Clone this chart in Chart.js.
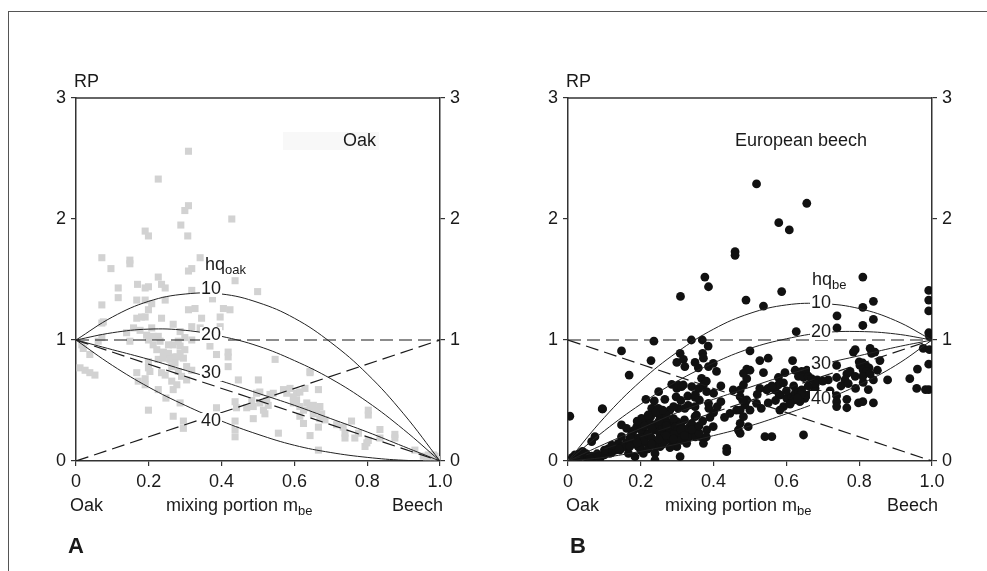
<!DOCTYPE html>
<html>
<head>
<meta charset="utf-8">
<script src="https://cdn.jsdelivr.net/npm/chart.js@4.4.1/dist/chart.umd.min.js"></script>
<style>
  body { margin: 0; background: #fff; }
  #wrap { position: relative; width: 987px; height: 571px; overflow: hidden; }
  #frame { position: absolute; left: 8px; top: 11px; width: 990px; height: 600px;
           border-left: 1.5px solid #555; border-top: 1.5px solid #555; }
  canvas { position: absolute; top: 0; }
</style>
</head>
<body>
<div id="wrap">
  <div id="frame"></div>
  <canvas id="chartA" width="490" height="571" style="left:0"></canvas>
  <canvas id="chartB" width="497" height="571" style="left:490px"></canvas>
</div>
<script>
// mixing portion of beech (x) used for the model curves
var mixSteps = [0, 0.1, 0.2, 0.3, 0.4, 0.5, 0.6, 0.7, 0.8, 0.9, 1.0];

// relative productivity curves (hq = 10, 20, 30, 40)
var oakCurve10 = [1, 1.19, 1.32, 1.38, 1.38, 1.31, 1.18, 0.98, 0.72, 0.39, 0];
var oakCurve20 = [1, 1.06, 1.09, 1.08, 1.03, 0.95, 0.83, 0.68, 0.49, 0.26, 0];
var oakCurve30 = [1, 0.92, 0.84, 0.75, 0.66, 0.56, 0.46, 0.35, 0.24, 0.12, 0];
var oakCurve40 = [1, 0.79, 0.61, 0.46, 0.33, 0.22, 0.13, 0.07, 0.03, 0.006, 0];

var beechCurve10 = [0, 0.36, 0.66, 0.90, 1.09, 1.22, 1.29, 1.30, 1.26, 1.16, 1];
var beechCurve20 = [0, 0.25, 0.47, 0.66, 0.81, 0.93, 1.01, 1.06, 1.07, 1.05, 1];
var beechCurve30 = [0, 0.14, 0.27, 0.40, 0.51, 0.61, 0.71, 0.80, 0.87, 0.94, 1];
var beechCurve40 = [0, 0.03, 0.08, 0.14, 0.21, 0.29, 0.39, 0.50, 0.63, 0.79, 1];

// reference lines (dashed)
var refEnds = [0, 1];
var refFlat = [1, 1];
var refUp = [0, 1];
var refDown = [1, 0];

var xTickLabels = ['0', '0.2', '0.4', '0.6', '0.8', '1.0'];
var yTickLabels = ['0', '1', '2', '3'];

// observed plots: [mixing portion, RP]
var oakPoints = [
  [0.309,2.56],[0.226,2.33],[0.309,2.11],[0.299,2.07],[0.428,2.00],[0.288,1.95],[0.307,1.86],[0.190,1.90],
  [0.199,1.86],[0.071,1.68],[0.148,1.66],[0.148,1.63],[0.096,1.59],[0.341,1.68],[0.318,1.59],[0.309,1.57],
  [0.437,1.49],[0.226,1.52],[0.235,1.46],[0.245,1.43],[0.116,1.43],[0.116,1.35],[0.169,1.46],[0.190,1.43],
  [0.199,1.44],[0.318,1.41],[0.499,1.40],[0.167,1.33],[0.190,1.33],[0.208,1.30],[0.245,1.33],[0.071,1.29],
  [0.199,1.25],[0.309,1.25],[0.327,1.26],[0.405,1.26],[0.423,1.25],[0.375,1.34],[0.071,1.14],[0.075,1.15],
  [0.167,1.18],[0.180,1.19],[0.190,1.19],[0.235,1.18],[0.345,1.18],[0.396,1.19],[0.267,1.13],[0.139,1.06],
  [0.158,1.10],[0.176,1.08],[0.208,1.10],[0.318,1.11],[0.341,1.10],[0.286,1.07],[0.396,1.11],[0.391,1.03],
  [0.071,1.02],[0.061,0.99],[0.016,0.96],[0.020,0.93],[0.038,0.88],[0.148,0.99],[0.194,1.04],[0.199,1.00],
  [0.212,1.03],[0.226,1.03],[0.212,0.96],[0.231,0.99],[0.254,0.96],[0.267,0.96],[0.281,0.99],[0.299,1.02],
  [0.318,1.00],[0.222,0.92],[0.240,0.90],[0.254,0.89],[0.267,0.86],[0.286,0.95],[0.299,0.92],[0.245,0.88],
  [0.258,0.84],[0.277,0.86],[0.286,0.89],[0.226,0.84],[0.240,0.85],[0.368,0.95],[0.386,0.88],[0.418,0.90],
  [0.418,0.86],[0.199,0.82],[0.199,0.77],[0.203,0.74],[0.263,0.78],[0.272,0.81],[0.281,0.74],[0.295,0.85],
  [0.304,0.78],[0.318,0.75],[0.418,0.78],[0.011,0.77],[0.025,0.75],[0.038,0.73],[0.052,0.71],[0.167,0.73],
  [0.171,0.66],[0.190,0.68],[0.190,0.63],[0.235,0.73],[0.245,0.71],[0.263,0.66],[0.277,0.63],[0.267,0.59],
  [0.290,0.70],[0.304,0.67],[0.350,0.71],[0.386,0.71],[0.446,0.67],[0.501,0.67],[0.547,0.84],[0.643,0.74],
  [0.643,0.73],[0.199,0.42],[0.226,0.59],[0.247,0.52],[0.286,0.48],[0.267,0.37],[0.295,0.33],[0.295,0.27],
  [0.386,0.44],[0.437,0.49],[0.441,0.44],[0.437,0.33],[0.437,0.26],[0.437,0.20],[0.469,0.44],[0.483,0.50],
  [0.487,0.45],[0.496,0.56],[0.505,0.48],[0.515,0.42],[0.524,0.50],[0.528,0.46],[0.487,0.35],[0.519,0.39],
  [0.505,0.57],[0.533,0.55],[0.542,0.56],[0.556,0.23],[0.570,0.59],[0.579,0.56],[0.588,0.60],[0.597,0.53],
  [0.606,0.50],[0.606,0.56],[0.615,0.57],[0.629,0.60],[0.597,0.48],[0.615,0.45],[0.625,0.42],[0.634,0.48],
  [0.643,0.44],[0.652,0.46],[0.661,0.42],[0.666,0.59],[0.670,0.45],[0.675,0.39],[0.652,0.39],[0.615,0.37],
  [0.625,0.31],[0.643,0.21],[0.666,0.28],[0.684,0.34],[0.670,0.35],[0.666,0.09],[0.716,0.30],[0.734,0.28],
  [0.739,0.23],[0.739,0.19],[0.757,0.33],[0.766,0.19],[0.776,0.23],[0.794,0.12],[0.803,0.17],[0.799,0.15],
  [0.803,0.42],[0.803,0.38],[0.835,0.26],[0.835,0.19],[0.876,0.22],[0.876,0.19],[0.931,0.09],[0.954,0.04],
  [0.968,0.05],[0.977,0.02],[0.986,0.04],[0.991,0.01],[0.982,0.05],[0.995,0.01],[0.963,0.02]
];

var beechPoints = [
  [0.518,2.29],[0.656,2.13],[0.579,1.97],[0.608,1.91],[0.459,1.73],[0.459,1.70],[0.376,1.52],[0.386,1.44],
  [0.810,1.52],[0.587,1.40],[0.309,1.36],[0.489,1.33],[0.537,1.28],[0.839,1.32],[0.810,1.27],[0.739,1.20],
  [0.739,1.10],[0.810,1.12],[0.839,1.17],[0.627,1.07],
  [0.991,1.41],[0.991,1.33],[0.991,1.24],[0.991,1.06],[0.993,1.03],[0.976,0.93],[0.993,0.92],[0.991,0.80],
  [0.991,0.59],[0.982,0.59],[0.958,0.60],[0.960,0.76],[0.939,0.68],[0.878,0.67],
  [0.005,0.37],[0.236,0.99],[0.339,1.00],[0.369,1.00],[0.147,0.91],[0.228,0.83],[0.168,0.71],[0.094,0.43],
  [0.385,0.95],[0.308,0.89],[0.299,0.815],[0.317,0.84],[0.349,0.815],[0.358,0.77],[0.370,0.89],[0.372,0.85],
  [0.386,0.78],[0.399,0.807],[0.408,0.74],[0.321,0.78],
  [0.214,0.51],[0.230,0.435],[0.237,0.496],[0.249,0.573],[0.266,0.51],[0.285,0.634],[0.297,0.53],[0.299,0.60],
  [0.303,0.628],[0.312,0.614],[0.317,0.628],[0.329,0.537],[0.340,0.614],[0.349,0.449],[0.349,0.526],[0.361,0.504],
  [0.367,0.683],[0.372,0.628],[0.381,0.573],[0.386,0.477],[0.387,0.435],[0.303,0.435],[0.321,0.435],[0.349,0.366],
  [0.353,0.38],[0.280,0.421],[0.248,0.435],[0.227,0.366],[0.216,0.339],
  [0.065,0.16],[0.074,0.201],[0.095,0.43],[0.147,0.298],[0.161,0.27],[0.175,0.229],[0.189,0.284],[0.202,0.353],
  [0.207,0.311],[0.216,0.229],[0.225,0.311],[0.234,0.256],[0.248,0.284],[0.253,0.366],[0.262,0.325],[0.271,0.256],
  [0.280,0.311],[0.289,0.27],[0.299,0.325],[0.303,0.201],[0.308,0.229],[0.317,0.256],[0.326,0.229],[0.335,0.284],
  [0.344,0.229],[0.353,0.256],[0.363,0.201],[0.372,0.146],[0.381,0.256],[0.399,0.284],[0.147,0.201],[0.189,0.187],
  [0.253,0.201],[0.271,0.174],[0.289,0.146],[0.326,0.146],[0.299,0.118],
  [0.019,0.05],[0.033,0.063],[0.024,0.022],[0.047,0.036],[0.065,0.041],[0.088,0.022],[0.097,0.05],[0.115,0.063],
  [0.125,0.118],[0.138,0.146],[0.143,0.091],[0.157,0.118],[0.166,0.063],[0.175,0.16],[0.184,0.036],[0.193,0.118],
  [0.202,0.146],[0.207,0.063],[0.221,0.132],[0.234,0.16],[0.239,0.063],[0.253,0.118],[0.239,0.008],[0.308,0.036],
  [0.436,0.105],[0.436,0.077],[0.445,0.394],[0.463,0.421],[0.468,0.256],[0.454,0.587],[0.473,0.311],
  [0.18,0.25],[0.20,0.20],[0.21,0.17],[0.22,0.22],[0.23,0.19],[0.24,0.30],[0.25,0.24],[0.26,0.28],
  [0.265,0.21],[0.27,0.33],[0.28,0.24],[0.285,0.19],[0.29,0.35],[0.295,0.28],[0.30,0.25],[0.31,0.30],
  [0.32,0.34],[0.33,0.27],[0.34,0.31],[0.27,0.38],[0.26,0.42],[0.24,0.40],[0.22,0.38],[0.20,0.26],
  [0.17,0.19],[0.16,0.15],[0.15,0.12],[0.13,0.09],[0.12,0.07],[0.11,0.10],[0.10,0.05],[0.07,0.03],
  [0.05,0.06],[0.03,0.03],[0.04,0.08],[0.012,0.03],[0.20,0.09],[0.22,0.10],[0.24,0.12],[0.26,0.14],
  [0.28,0.11],[0.31,0.17],[0.33,0.19],[0.35,0.20],[0.36,0.23],[0.38,0.20],
  [0.19,0.33],[0.21,0.29],[0.23,0.27],[0.25,0.33],[0.27,0.29],[0.29,0.22],[0.31,0.26],[0.32,0.21],
  [0.34,0.26],[0.36,0.29],[0.37,0.33],[0.39,0.36],[0.40,0.40],[0.41,0.45],[0.42,0.49],[0.43,0.36],
  [0.25,0.18],[0.27,0.21],[0.29,0.18],[0.23,0.14],[0.19,0.15],[0.17,0.12],[0.14,0.10],[0.12,0.13],
  [0.10,0.09],[0.08,0.06],[0.06,0.02],[0.02,0.01],[0.35,0.55],[0.33,0.46],[0.31,0.50],[0.29,0.45],
  [0.36,0.60],[0.38,0.66],[0.40,0.56],[0.42,0.62],
  [0.500,0.91],[0.527,0.83],[0.550,0.85],[0.491,0.76],[0.491,0.68],[0.537,0.73],[0.617,0.83],[0.596,0.73],
  [0.578,0.69],[0.624,0.75],[0.642,0.74],[0.656,0.75],[0.633,0.70],[0.647,0.69],[0.660,0.70],[0.669,0.68],
  [0.685,0.67],[0.715,0.67],[0.738,0.69],[0.738,0.79],[0.766,0.72],[0.775,0.74],[0.761,0.67],[0.789,0.70],
  [0.784,0.90],[0.789,0.92],[0.830,0.93],[0.834,0.89],[0.843,0.90],[0.800,0.82],[0.810,0.81],[0.818,0.79],
  [0.827,0.77],[0.802,0.79],[0.811,0.75],[0.820,0.74],[0.857,0.83],[0.839,0.67],[0.811,0.65],[0.825,0.59],
  [0.738,0.54],[0.738,0.49],[0.738,0.45],[0.766,0.51],[0.766,0.44],[0.798,0.48],[0.810,0.49],[0.839,0.48],
  [0.473,0.587],[0.473,0.532],[0.486,0.463],[0.491,0.504],[0.518,0.477],[0.531,0.435],[0.546,0.587],[0.527,0.60],
  [0.550,0.60],[0.569,0.587],[0.578,0.63],[0.592,0.645],[0.582,0.545],[0.601,0.518],[0.614,0.532],[0.624,0.559],
  [0.633,0.573],[0.642,0.587],[0.651,0.518],[0.656,0.545],[0.669,0.559],[0.679,0.60],[0.637,0.49],[0.619,0.504],
  [0.592,0.449],[0.582,0.421],[0.473,0.421],[0.482,0.366],[0.495,0.284],[0.473,0.229],[0.482,0.63],[0.482,0.725],
  [0.500,0.75],[0.541,0.201],[0.560,0.201],[0.647,0.215],
  [0.56,0.62],[0.58,0.55],[0.60,0.58],[0.62,0.62],[0.64,0.55],[0.66,0.62],[0.68,0.64],[0.70,0.66],
  [0.55,0.48],[0.57,0.50],[0.61,0.47],[0.63,0.52],[0.69,0.55],[0.72,0.58],[0.75,0.62],[0.77,0.64],
  [0.79,0.60],[0.81,0.70],[0.83,0.72],[0.85,0.75],[0.52,0.55],[0.50,0.42],[0.48,0.50]
];

var FONT = '"Liberation Sans", Arial, Helvetica, sans-serif';

function xy(xs, ys) {
    return xs.map(function(x, i) { return { x: x, y: ys[i] }; });
}

function curve(ys) {
    return {
        type: 'scatter', showLine: true, data: xy(mixSteps, ys),
        borderColor: '#222', borderWidth: 1, pointRadius: 0, tension: 0.4, order: 0
    };
}

function dashed(ys) {
    return {
        type: 'scatter', showLine: true, data: xy(refEnds, ys),
        borderColor: '#1a1a1a', borderWidth: 1.2, borderDash: [13, 6], pointRadius: 0, order: 0
    };
}

// draws "main" with a subscript after it
function drawText(ctx, t) {
    ctx.save();
    ctx.font = (t.bold ? 'bold ' : '') + (t.size || 18) + 'px ' + FONT;
    ctx.textBaseline = 'middle';
    ctx.textAlign = t.align || 'left';
    var w = ctx.measureText(t.text).width;
    if (t.bg) {
        var left = t.align === 'center' ? t.x - w / 2 : t.x;
        ctx.fillStyle = t.bg;
        ctx.fillRect(left - 1, t.y - 8, w + 2, 16);
    }
    ctx.fillStyle = '#1a1a1a';
    ctx.fillText(t.text, t.x, t.y);
    if (t.sub) {
        ctx.font = '13px ' + FONT;
        ctx.textAlign = 'left';
        var x0 = t.align === 'right' ? t.x : t.x + w;
        ctx.fillText(t.sub, x0, t.y + 5);
    }
    ctx.restore();
}

var textPlugin = {
    id: 'texts',
    afterDatasetsDraw: function(chart, args, opts) {
        var ctx = chart.ctx;
        var a = chart.chartArea;
        // top line of the plot box
        ctx.save();
        ctx.strokeStyle = '#333';
        ctx.lineWidth = 1.5;
        ctx.beginPath();
        ctx.moveTo(a.left, a.top);
        ctx.lineTo(a.right, a.top);
        ctx.stroke();
        ctx.restore();
        (opts.boxes || []).forEach(function(b) {
            ctx.fillStyle = b.color;
            ctx.fillRect(b.x - opts.offset, b.y, b.w, b.h);
        });
        (opts.items || []).forEach(function(t) {
            drawText(ctx, Object.assign({}, t, { x: t.x - opts.offset }));
        });
    }
};

function axisTicks(labels, step) {
    return {
        stepSize: step,
        padding: 5,
        color: '#1a1a1a',
        font: { size: 18, family: FONT },
        callback: function(v) {
            var i = Math.round(v / step);
            return labels[i] !== undefined ? labels[i] : '';
        }
    };
}

function buildChart(id, datasets, leftW, rightW, texts) {
    var grid = { drawOnChartArea: false, drawTicks: true, tickLength: 5, color: '#333', lineWidth: 1.2 };
    var border = { display: true, color: '#333', width: 1.5 };
    return new Chart(document.getElementById(id), {
        type: 'scatter',
        data: { datasets: datasets },
        options: {
            responsive: false,
            animation: false,
            devicePixelRatio: 1,
            layout: { padding: { top: 98, left: 0, right: 0, bottom: 0 } },
            plugins: { legend: { display: false }, tooltip: { enabled: false }, texts: texts },
            scales: {
                x: {
                    type: 'linear', min: 0, max: 1, grid: grid, border: border,
                    ticks: axisTicks(xTickLabels, 0.2),
                    afterFit: function(s) { s.height = 110; }
                },
                y: {
                    type: 'linear', position: 'left', min: 0, max: 3, grid: grid, border: border,
                    ticks: axisTicks(yTickLabels, 1),
                    afterFit: function(s) { s.width = leftW; }
                },
                y2: {
                    type: 'linear', position: 'right', min: 0, max: 3, grid: grid, border: border,
                    ticks: axisTicks(yTickLabels, 1),
                    afterFit: function(s) { s.width = rightW; }
                }
            }
        },
        plugins: [textPlugin]
    });
}

// Panel A: oak
buildChart('chartA', [
    curve(oakCurve10), curve(oakCurve20), curve(oakCurve30), curve(oakCurve40),
    dashed(refFlat), dashed(refUp), dashed(refDown),
    {
        type: 'scatter', data: oakPoints.map(function(p) { return { x: p[0], y: p[1] }; }),
        pointStyle: 'rect', pointRadius: 5, backgroundColor: '#d2d2d2', borderWidth: 0, order: 1
    }
], 76, 50, {
    offset: 0,
    boxes: [{ x: 283, y: 132, w: 96, h: 18, color: '#f8f8f8' }],
    items: [
        { text: 'RP', x: 74, y: 82 },
        { text: 'Oak', x: 343, y: 141 },
        { text: 'hq', sub: 'oak', x: 205, y: 265 },
        { text: '10', x: 211, y: 289, align: 'center', bg: '#fff' },
        { text: '20', x: 211, y: 335, align: 'center', bg: '#fff' },
        { text: '30', x: 211, y: 373, align: 'center', bg: '#fff' },
        { text: '40', x: 211, y: 421, align: 'center', bg: '#fff' },
        { text: 'Oak', x: 70, y: 506 },
        { text: 'mixing portion m', sub: 'be', x: 166, y: 506 },
        { text: 'Beech', x: 443, y: 506, align: 'right' },
        { text: 'A', x: 68, y: 547, bold: true, size: 22 }
    ]
});

// Panel B: European beech
buildChart('chartB', [
    curve(beechCurve10), curve(beechCurve20), curve(beechCurve30), curve(beechCurve40),
    dashed(refFlat), dashed(refUp), dashed(refDown),
    {
        type: 'scatter', data: beechPoints.map(function(p) { return { x: p[0], y: p[1] }; }),
        pointStyle: 'circle', pointRadius: 4.4, backgroundColor: '#111', borderWidth: 0, order: 1
    }
], 78, 55, {
    offset: 490,
    items: [
        { text: 'RP', x: 566, y: 82 },
        { text: 'European beech', x: 735, y: 141 },
        { text: 'hq', sub: 'be', x: 812, y: 280 },
        { text: '10', x: 821, y: 303, align: 'center', bg: '#fff' },
        { text: '20', x: 821, y: 332, align: 'center', bg: '#fff' },
        { text: '30', x: 821, y: 364, align: 'center', bg: '#fff' },
        { text: '40', x: 821, y: 399, align: 'center', bg: '#fff' },
        { text: 'Oak', x: 566, y: 506 },
        { text: 'mixing portion m', sub: 'be', x: 665, y: 506 },
        { text: 'Beech', x: 938, y: 506, align: 'right' },
        { text: 'B', x: 570, y: 547, bold: true, size: 22 }
    ]
});
</script>
</body>
</html>
